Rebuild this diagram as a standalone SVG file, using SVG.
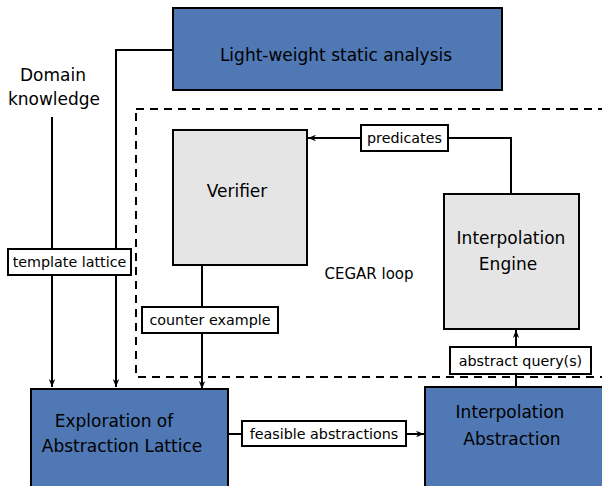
<svg xmlns="http://www.w3.org/2000/svg" width="602" height="486" viewBox="0 0 602 486">
<defs>
<marker id="arr" viewBox="0 0 10 10" refX="10" refY="5" markerWidth="8" markerHeight="8" markerUnits="userSpaceOnUse" orient="auto">
<path d="M0,1 L10,5 L0,9 L3,5 Z" fill="#000"/>
</marker>
<style>
.blue{fill:#4f78b5;stroke:#000;stroke-width:2}
.gray{fill:#e5e5e5;stroke:#000;stroke-width:2}
.lbl{fill:#fff;stroke:#000;stroke-width:2}
.t{font-family:"DejaVu Sans",sans-serif;font-size:17px;fill:#000;text-anchor:middle}
.s{font-family:"DejaVu Sans",sans-serif;font-size:14.3px;fill:#000;text-anchor:middle}
.c{fill:none;stroke:#000;stroke-width:2}
</style>
</defs>
<rect x="136" y="109" width="480" height="268" fill="none" stroke="#000" stroke-width="2" stroke-dasharray="8,6"/>
<text class="s" x="369" y="279" style="font-size:15px">CEGAR loop</text>
<g id="connectors">
<path class="c" d="M173,50 H116 V387" marker-end="url(#arr)"/>
<path class="c" d="M52,117 V387" marker-end="url(#arr)"/>
<path class="c" d="M202,265 V389" marker-end="url(#arr)"/>
<path class="c" d="M511,194 V138 H308" marker-end="url(#arr)"/>
<path class="c" d="M516,387 V330" marker-end="url(#arr)"/>
<path class="c" d="M228,434 H424" marker-end="url(#arr)"/>
</g>
<g id="static"><rect class="blue" x="173" y="8" width="329" height="82"/><text class="t" x="336" y="61">Light-weight static analysis</text></g>
<g id="domain"><text class="t" x="53" y="81">Domain</text><text class="t" x="54" y="105">knowledge</text></g>
<g id="verifier"><rect class="gray" x="173" y="130" width="134" height="135"/><text class="t" x="237" y="197">Verifier</text></g>
<g id="engine"><rect class="gray" x="444" y="194" width="135" height="135"/><text class="t" x="511" y="244">Interpolation</text><text class="t" x="508" y="270">Engine</text></g>
<g id="exploration"><rect class="blue" x="31" y="389" width="197" height="100"/><text class="t" x="114" y="427">Exploration of</text><text class="t" x="122" y="452">Abstraction Lattice</text></g>
<g id="interpabs"><rect class="blue" x="425" y="387" width="190" height="102"/><text class="t" x="510" y="418">Interpolation</text><text class="t" x="512" y="445">Abstraction</text></g>
<g id="lbl-predicates"><rect class="lbl" x="361" y="125" width="87" height="26"/><text class="s" x="404.5" y="143">predicates</text></g>
<g id="lbl-template"><rect class="lbl" x="8" y="249" width="123" height="26"/><text class="s" x="69.5" y="267">template lattice</text></g>
<g id="lbl-counter"><rect class="lbl" x="142" y="307" width="136" height="26"/><text class="s" x="210" y="325">counter example</text></g>
<g id="lbl-feasible"><rect class="lbl" x="242" y="421" width="164" height="25"/><text class="s" x="324" y="439">feasible abstractions</text></g>
<g id="lbl-query"><rect class="lbl" x="450" y="347" width="141" height="27"/><text class="s" x="520.5" y="366">abstract query(s)</text></g>
</svg>
